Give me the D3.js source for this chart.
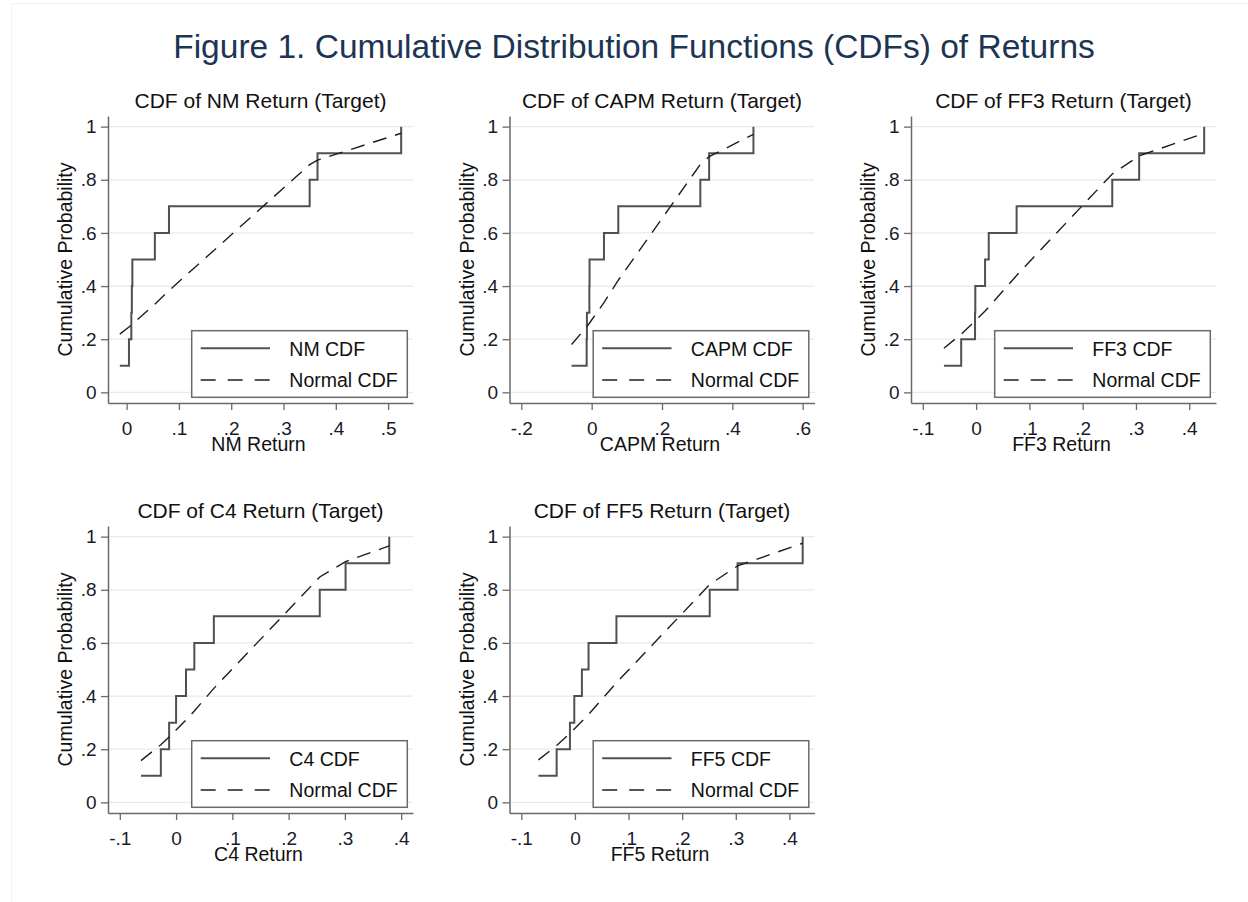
<!DOCTYPE html>
<html>
<head>
<meta charset="utf-8">
<script src="https://cdn.jsdelivr.net/npm/d3@7"></script>
<style>
  body { margin: 0; background: #fff; }
  svg { display: block; font-family: "Liberation Sans", Arial, sans-serif; }
</style>
</head>
<body>
<script>
// cumulative probability of each sorted observation (10 obs per series)
const cdfLevels = [0.1, 0.2, 0.3, 0.4, 0.5, 0.6, 0.7, 0.8, 0.9, 1.0];
const yTicks = [0, 0.2, 0.4, 0.6, 0.8, 1];

// sorted returns and the normal CDF at those returns
const nmReturn   = [-0.013, 0.0045, 0.009, 0.010, 0.011, 0.054, 0.081, 0.350, 0.365, 0.525];
const nmNormal   = [0.219, 0.246, 0.254, 0.255, 0.257, 0.332, 0.383, 0.857, 0.874, 0.975];
const nmTicks    = [0, 0.1, 0.2, 0.3, 0.4, 0.5];

const capmReturn = [-0.057, -0.0142, -0.0135, -0.0065, -0.006, 0.035, 0.0757, 0.309, 0.334, 0.460];
const capmNormal = [0.180, 0.247, 0.248, 0.260, 0.261, 0.338, 0.422, 0.858, 0.887, 0.971];
const capmTicks  = [-0.2, 0, 0.2, 0.4, 0.6];

const ff3Return  = [-0.0604, -0.028, -0.002, -0.0015, 0.0168, 0.0237, 0.076, 0.2555, 0.306, 0.428];
const ff3Normal  = [0.166, 0.219, 0.268, 0.269, 0.306, 0.321, 0.440, 0.822, 0.890, 0.975];
const ff3Ticks   = [-0.1, 0, 0.1, 0.2, 0.3, 0.4];

const c4Return   = [-0.0624, -0.0271, -0.0124, 0.0, 0.0176, 0.0324, 0.0671, 0.2553, 0.3012, 0.3788];
const c4Normal   = [0.157, 0.217, 0.246, 0.272, 0.310, 0.344, 0.429, 0.848, 0.906, 0.965];
const c4Ticks    = [-0.1, 0, 0.1, 0.2, 0.3, 0.4];

const ff5Return  = [-0.0681, -0.0341, -0.0093, -0.0012, 0.013, 0.0254, 0.0774, 0.2514, 0.3034, 0.4248];
const ff5Normal  = [0.160, 0.214, 0.260, 0.276, 0.305, 0.331, 0.450, 0.820, 0.890, 0.975];
const ff5Ticks   = [-0.1, 0, 0.1, 0.2, 0.3, 0.4];

const panels = [
  { name: "NM",   ret: nmReturn,   norm: nmNormal,   ticks: nmTicks },
  { name: "CAPM", ret: capmReturn, norm: capmNormal, ticks: capmTicks },
  { name: "FF3",  ret: ff3Return,  norm: ff3Normal,  ticks: ff3Ticks },
  { name: "C4",   ret: c4Return,   norm: c4Normal,   ticks: c4Ticks },
  { name: "FF5",  ret: ff5Return,  norm: ff5Normal,  ticks: ff5Ticks }
];

const W = 1248, H = 902;
const cols = [108, 509.5, 911];
const rows = [116, 526];
const plotW = 305, plotH = 287;
const axisCol = '#6a6a6a';

// stata style labels: .2, -.1, 0, 1
const fmt = v => String(+v.toFixed(2)).replace(/^(-?)0\./, '$1.');

const svg = d3.select('body').append('svg')
    .attr('width', W)
    .attr('height', H);

// faint outer frame of the graph
svg.append('rect')
    .attr('x', 11.5).attr('y', 3.5)
    .attr('width', W).attr('height', H)
    .attr('fill', 'none')
    .attr('stroke', '#f1f1f1');

svg.append('text')
    .attr('x', 634).attr('y', 58)
    .attr('text-anchor', 'middle')
    .style('font-size', '33.5px')
    .style('fill', '#1c3553')
    .text('Figure 1. Cumulative Distribution Functions (CDFs) of Returns');

panels.forEach((p, i) => {
    const left = cols[i % 3], top = rows[Math.floor(i / 3)];
    const bottom = top + plotH;

    const ext = d3.extent(p.ticks.concat(p.ret));
    const pad = 0.042 * (ext[1] - ext[0]);
    const x = d3.scaleLinear().domain([ext[0] - pad, ext[1] + pad]).range([left, left + plotW]);
    const y = d3.scaleLinear().domain([-0.04, 1.04]).range([bottom, top]);

    const g = svg.append('g');

    // gridlines
    g.selectAll('.grid')
        .data(yTicks)
        .enter()
      .append('line')
        .attr('x1', left).attr('x2', left + plotW)
        .attr('y1', d => y(d)).attr('y2', d => y(d))
        .attr('stroke', '#e9e9e9')
        .attr('stroke-width', 1.3);

    // axes
    const xAxis = g.append('g')
        .attr('transform', `translate(0,${bottom})`)
        .call(d3.axisBottom(x).tickValues(p.ticks).tickFormat(fmt)
            .tickSize(7).tickSizeOuter(0).tickPadding(11.5));
    const yAxis = g.append('g')
        .attr('transform', `translate(${left},0)`)
        .call(d3.axisLeft(y).tickValues(yTicks).tickFormat(fmt)
            .tickSize(7).tickSizeOuter(0).tickPadding(4.5));
    [xAxis, yAxis].forEach(a => {
        a.select('.domain').attr('stroke', axisCol).attr('stroke-width', 1.5);
        a.selectAll('.tick line').attr('stroke', axisCol).attr('stroke-width', 1.3);
        a.selectAll('.tick text')
            .style('font-size', '19px')
            .style('fill', '#1a1a2a')
            .style('font-family', '"Liberation Sans", Arial, sans-serif');
    });

    const pts = p.ret.map((r, k) => ({ r: r, f: cdfLevels[k], n: p.norm[k] }));

    // empirical CDF as a stairstep
    g.append('path')
        .datum(pts)
        .attr('fill', 'none')
        .attr('stroke', '#505050')
        .attr('stroke-width', 2)
        .attr('d', d3.line().curve(d3.curveStepAfter).x(d => x(d.r)).y(d => y(d.f)));

    // normal CDF at the same returns
    g.append('path')
        .datum(pts)
        .attr('fill', 'none')
        .attr('stroke', '#1e1e1e')
        .attr('stroke-width', 1.4)
        .attr('stroke-dasharray', '14,9')
        .attr('d', d3.line().x(d => x(d.r)).y(d => y(d.n)));

    // titles
    g.append('text')
        .attr('x', left + plotW / 2).attr('y', top - 8)
        .attr('text-anchor', 'middle')
        .style('font-size', '21px')
        .style('fill', '#111')
        .text(`CDF of ${p.name} Return (Target)`);

    g.append('text')
        .attr('x', left + plotW / 2 - 2).attr('y', bottom + 48)
        .attr('text-anchor', 'middle')
        .style('font-size', '19.5px')
        .style('fill', '#111')
        .text(`${p.name} Return`);

    g.append('text')
        .attr('transform', `translate(${left - 36},${(top + bottom) / 2}) rotate(-90)`)
        .attr('text-anchor', 'middle')
        .style('font-size', '19.5px')
        .style('fill', '#111')
        .text('Cumulative Probability');

    // legend
    const lw = 215.6, lh = 66.6;
    const lx = left + plotW - 5.7 - lw, ly = bottom - 5.7 - lh;
    const leg = g.append('g').attr('transform', `translate(${lx},${ly})`);
    leg.append('rect')
        .attr('width', lw).attr('height', lh)
        .attr('fill', '#fff')
        .attr('stroke', '#6a6a6a')
        .attr('stroke-width', 1.5);
    const items = [
        { label: `${p.name} CDF`, dash: null, col: '#505050', sw: 2, ly: 17.6 },
        { label: 'Normal CDF', dash: '15,12', col: '#1e1e1e', sw: 1.4, ly: 49.3 }
    ];
    items.forEach(it => {
        leg.append('line')
            .attr('x1', 9).attr('x2', 78.3)
            .attr('y1', it.ly).attr('y2', it.ly)
            .attr('stroke', it.col)
            .attr('stroke-width', it.sw)
            .attr('stroke-dasharray', it.dash);
        leg.append('text')
            .attr('x', 97.6).attr('y', it.ly + 7.5)
            .style('font-size', '19.5px')
            .style('fill', '#111')
            .text(it.label);
    });
});
</script>
</body>
</html>
